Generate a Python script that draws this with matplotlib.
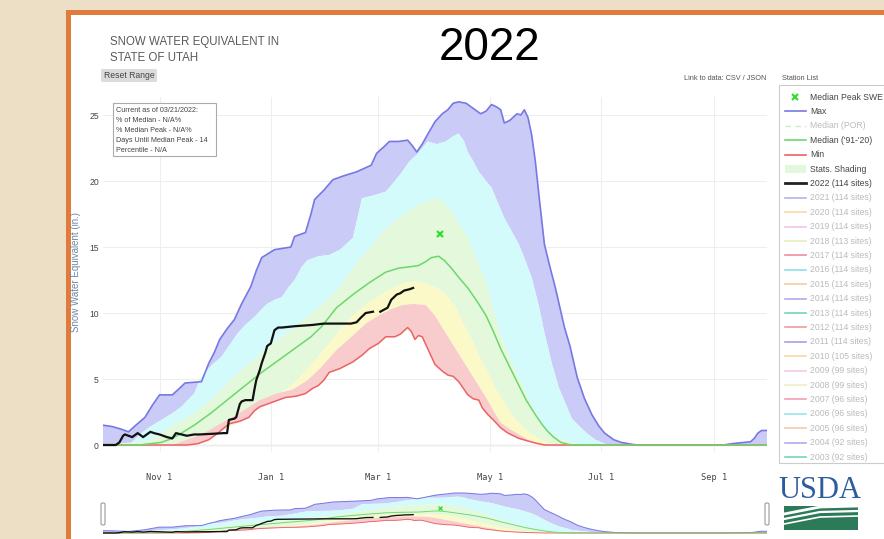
import numpy as np
import matplotlib
matplotlib.use("Agg")
import matplotlib.pyplot as plt
from matplotlib.patches import Rectangle, FancyBboxPatch

W, H = 884, 539

# x = day of water year (0 = Oct 1 2021, 364 = Sep 30 2022), y = SWE in inches
max_days = [0, 5, 10, 14, 18, 23, 27, 31, 38, 42, 45, 54, 58, 61, 64, 68, 72, 76, 81, 84, 87, 94,
            103, 105, 111, 114, 116, 121, 126, 132, 139, 147, 150, 154, 157, 162, 167, 170, 172,
            175, 177, 182, 186, 189, 192, 195, 199, 202, 207, 210, 213, 216, 218, 220, 223, 227,
            229, 231, 233, 235, 237, 239, 242, 245, 248, 253, 256, 260, 264, 268, 272, 275, 280,
            284, 290, 293, 340, 345, 348, 352, 355, 357, 359, 361, 364]
max_swe = [1.5, 1.4, 1.2, 1.0, 1.5, 2.1, 3.0, 3.8, 3.8, 4.3, 4.7, 4.8, 6.2, 7.0, 8.0, 8.8, 9.5, 10.7,
           12.0, 13.2, 14.2, 14.8, 15.0, 15.8, 16.1, 17.5, 18.6, 19.3, 20.1, 20.4, 20.7, 21.2, 22.1,
           22.6, 23.0, 23.0, 23.1, 22.6, 22.2, 22.8, 23.3, 24.5, 25.1, 25.4, 25.9, 26.0, 25.9, 25.6,
           25.1, 25.3, 25.8, 25.6, 25.4, 24.4, 24.6, 25.1, 25.0, 25.4, 24.8, 23.5, 21.5, 18.9, 15.2,
           13.5, 11.9, 8.9, 7.5, 5.1, 3.5, 2.3, 1.4, 0.9, 0.4, 0.2, 0.05, 0, 0, 0.1, 0.15, 0.2, 0.25,
           0.5, 0.9, 1.1, 1.1]

p90_days = [0, 15, 21, 26, 32, 38, 43, 50, 53, 56, 60, 65, 70, 74, 78, 83, 87, 90, 94, 98, 102, 105,
            109, 112, 118, 124, 130, 137, 140, 142, 148, 155, 160, 164, 168, 172, 178, 183, 188, 192,
            195, 198, 200, 203, 206, 210, 213, 216, 220, 224, 228, 232, 235, 239, 242, 246, 250, 254,
            257, 262, 266, 270, 275, 280, 364]
p90_swe = [0, 0.1, 0.9, 1.4, 1.9, 2.4, 2.9, 3.9, 4.9, 5.5, 6.1, 6.7, 7.7, 8.5, 9.1, 9.7, 10.3, 10.7,
           11.0, 11.2, 12.0, 12.5, 13.5, 14.0, 14.3, 14.4, 14.8, 15.7, 17.5, 18.7, 18.9, 19.2, 20.0,
           20.7, 21.5, 22.0, 23.0, 22.8, 23.0, 23.4, 23.6, 23.0, 22.2, 21.5, 20.7, 20.0, 19.5, 18.5,
           17.2, 16.2, 15.2, 13.8, 12.7, 10.5, 8.5, 6.2, 4.3, 3.0, 2.0, 1.3, 0.8, 0.4, 0.1, 0, 0]

p70_days = [0, 25, 32, 40, 50, 60, 68, 78, 87, 96, 105, 113, 120, 130, 137, 146, 155, 164, 173, 182,
            186, 191, 195, 200, 205, 210, 214, 218, 223, 228, 233, 237, 241, 244, 250, 256, 262, 364]
p70_swe = [0, 0.3, 0.9, 1.6, 2.4, 3.5, 4.7, 5.9, 7.0, 8.0, 8.9, 9.8, 10.6, 12.0, 13.4, 14.9, 16.4,
           17.4, 18.2, 18.7, 18.5, 17.7, 16.8, 15.7, 14.0, 12.3, 10.3, 8.3, 6.6, 5.1, 3.6, 2.5, 1.6,
           1.0, 0.5, 0.2, 0, 0]

med_days = [0, 20, 26, 32, 38, 43, 50, 59, 68, 77, 87, 96, 105, 114, 120, 128, 137, 146, 155, 162,
            168, 173, 177, 180, 184, 187, 191, 195, 200, 205, 210, 214, 218, 223, 228, 232, 237, 241,
            244, 247, 251, 255, 258, 364]
med_swe = [0, 0, 0.1, 0.2, 0.5, 0.9, 1.5, 2.4, 3.4, 4.4, 5.5, 6.4, 7.3, 8.2, 9.0, 10.4, 11.4, 12.3,
           13.1, 13.4, 13.5, 13.6, 13.9, 14.2, 14.3, 14.0, 13.4, 12.7, 11.9, 10.9, 9.8, 8.6, 7.3, 5.9,
           4.5, 3.4, 2.3, 1.5, 1.0, 0.6, 0.2, 0.05, 0, 0]

p30_days = [0, 35, 45, 50, 59, 68, 78, 87, 96, 105, 113, 120, 128, 137, 146, 155, 161, 166, 171, 177,
            183, 188, 193, 197, 202, 206, 211, 215, 220, 224, 229, 235, 240, 244, 250, 364]
p30_swe = [0, 0, 0.2, 0.4, 0.8, 1.3, 2.0, 2.9, 3.8, 4.7, 5.9, 7.0, 8.4, 9.8, 10.8, 11.6, 12.0, 12.3,
           12.4, 12.2, 11.9, 11.4, 10.5, 9.3, 8.0, 6.8, 5.5, 4.3, 3.2, 2.3, 1.5, 0.8, 0.4, 0.15, 0, 0]

p10_days = [0, 38, 42, 50, 58, 64, 71, 78, 86, 95, 104, 112, 119, 128, 137, 144, 151, 158, 164, 170,
            177, 182, 186, 191, 195, 200, 205, 210, 214, 218, 223, 228, 233, 237, 244, 364]
p10_swe = [0, 0, 0.2, 0.6, 1.1, 1.6, 2.1, 2.7, 3.4, 3.9, 4.2, 4.9, 5.8, 7.2, 8.3, 9.2, 9.8, 10.3,
           10.6, 10.7, 10.6, 9.8, 8.9, 7.8, 6.9, 5.8, 4.7, 3.6, 2.6, 1.7, 1.2, 0.8, 0.4, 0.2, 0, 0]

min_days = [0, 46, 52, 58, 63, 69, 75, 80, 83, 86, 92, 100, 106, 111, 115, 118, 121, 124, 130, 137,
            142, 146, 151, 155, 160, 163, 167, 169, 171, 173, 175, 178, 182, 186, 189, 192, 195, 198,
            200, 203, 206, 208, 211, 214, 218, 222, 228, 233, 237, 242, 364]
min_swe = [0, 0, 0.1, 0.4, 0.9, 1.6, 1.8, 2.1, 2.6, 2.9, 3.2, 3.6, 3.7, 3.9, 4.3, 4.5, 4.9, 5.5, 5.8,
           6.3, 6.8, 7.3, 7.7, 8.2, 8.2, 8.4, 8.9, 8.6, 8.0, 8.3, 8.2, 7.3, 6.1, 5.6, 5.3, 5.2, 4.8,
           4.2, 3.8, 3.5, 3.4, 2.8, 2.3, 1.9, 1.3, 0.9, 0.5, 0.3, 0.15, 0, 0]

cur_days = [0, 7, 9, 11, 12, 14, 16, 19, 22, 24, 26, 28, 31, 35, 38, 39, 40, 43, 46, 50, 53, 60, 66,
            68, 69, 72, 73, 75, 76, 78, 82, 83, 84, 86, 87, 89, 90, 92, 93, 94, 96, 98, 105, 115, 121,
            130, 136, 139, 141, 144, 148, 150, 152, 156, 158, 161, 163, 165, 168, 170]
cur_swe = [0, 0, 0.2, 0.7, 0.8, 0.7, 0.6, 0.9, 0.6, 0.8, 1.0, 0.9, 0.8, 0.6, 0.5, 0.7, 0.9, 0.8, 0.7,
           0.8, 0.8, 0.85, 0.9, 0.9, 1.9, 2.0, 2.1, 3.1, 3.3, 3.4, 3.4, 4.2, 4.9, 5.7, 6.2, 7.0, 7.5,
           7.7, 8.2, 8.7, 8.9, 8.9, 9.0, 9.1, 9.2, 9.2, 9.2, 9.3, 9.6, 10.0, 10.1, np.nan, 10.1, 10.4,
           11.0, 11.4, 11.5, 11.7, 11.8, 11.9]

peak_day, peak_swe = 185, 16.0

tick_days = [31, 92, 151, 212, 273, 335]
tick_labels = ["Nov 1", "Jan 1", "Mar 1", "May 1", "Jul 1", "Sep 1"]

legend_labels = ["Median Peak SWE", "Max", "Median (POR)", "Median ('91-'20)", "Min", "Stats. Shading",
                 "2022 (114 sites)", "2021 (114 sites)", "2020 (114 sites)", "2019 (114 sites)",
                 "2018 (113 sites)", "2017 (114 sites)", "2016 (114 sites)", "2015 (114 sites)",
                 "2014 (114 sites)", "2013 (114 sites)", "2012 (114 sites)", "2011 (114 sites)",
                 "2010 (105 sites)", "2009 (99 sites)", "2008 (99 sites)", "2007 (96 sites)",
                 "2006 (96 sites)", "2005 (96 sites)", "2004 (92 sites)", "2003 (92 sites)"]
legend_active = [True, True, False, True, True, True, True] + [False] * 19
year_colors = ["#b3b3ee", "#f8d8a8", "#f6c4ec", "#e8ecb8", "#ee8e9e", "#8ee0ea", "#f8c8a0",
               "#b8a8ec", "#6ed8b0", "#f09a9a", "#a8a0e8", "#f8d8a0", "#f8c8ec", "#ecf0c0",
               "#f0a0b0", "#98e4ee", "#f8c8a8", "#b8a8ee", "#70d8b8"]

C_MAX, C_MED, C_MIN = "#7878e4", "#6cd86c", "#ec6262"
C_PURPLE, C_CYAN, C_GREEN, C_YELLOW, C_PINK = "#cbcbf7", "#d3fbfb", "#e4f8dc", "#fcf9c8", "#f8cccc"

plt.rcParams['font.family'] = ['Liberation Sans', 'DejaVu Sans']


def px(x, y, w, h):
    return [x / W, 1 - (y + h) / H, w / W, h / H]


def band(ax, d_hi, v_hi, d_lo, v_lo, color):
    xs = np.concatenate([d_hi, d_lo[::-1]])
    ys = np.concatenate([v_hi, v_lo[::-1]])
    ax.fill(xs, ys, color=color, lw=0, zorder=1)


def draw_chart(ax, lw_scale=1.0):
    a = np.asarray
    band(ax, a(max_days), a(max_swe), a(p90_days), a(p90_swe), C_PURPLE)
    band(ax, a(p90_days), a(p90_swe), a(p70_days), a(p70_swe), C_CYAN)
    band(ax, a(p70_days), a(p70_swe), a(p30_days), a(p30_swe), C_GREEN)
    band(ax, a(p30_days), a(p30_swe), a(p10_days), a(p10_swe), C_YELLOW)
    band(ax, a(p10_days), a(p10_swe), a(min_days), a(min_swe), C_PINK)
    ax.plot(max_days, max_swe, color=C_MAX, lw=1.2 * lw_scale, zorder=3)
    ax.plot(min_days, min_swe, color=C_MIN, lw=1.1 * lw_scale, zorder=3)
    ax.plot(med_days, med_swe, color=C_MED, lw=1.1 * lw_scale, zorder=4)
    ax.plot(cur_days, cur_swe, color="#111111", lw=1.6 * lw_scale, zorder=5)
    ax.plot([peak_day], [peak_swe], marker='x', color="#33dd33", ms=4 * lw_scale,
            mew=1.6 * lw_scale, zorder=6)
    ax.set_xlim(0, 364)


fig = plt.figure(figsize=(W / 100, H / 100), dpi=100)
fig.patch.set_facecolor("#ecdfc6")

# background panel and page decorations
bg = fig.add_axes([0, 0, 1, 1], zorder=0)
bg.set_xlim(0, W)
bg.set_ylim(H, 0)
bg.axis('off')
bg.add_patch(Rectangle((67.5, 12), W, H, facecolor="white", edgecolor="#e07b3e", lw=3.6))
bg.text(110, 42, "SNOW WATER EQUIVALENT IN", fontsize=8.3, color="#5a5a5a", va='center')
bg.text(110, 58, "STATE OF UTAH", fontsize=8.3, color="#5a5a5a", va='center')
bg.text(490, 48, "2022", fontsize=33, color="black", ha='center', va='center')
bg.add_patch(FancyBboxPatch((101, 69), 56, 13, boxstyle="round,pad=0,rounding_size=1.5",
                            facecolor="#dcdcdc", edgecolor="none"))
bg.text(129, 75.5, "Reset Range", fontsize=6.2, color="#444444", ha='center', va='center')
bg.text(766, 78, "Link to data: CSV / JSON", fontsize=5.3, color="#555555", ha='right', va='center')
bg.text(782, 78, "Station List", fontsize=5.3, color="#555555", va='center')

# main chart
ax = fig.add_axes(px(103, 97, 664, 355), zorder=1)
ax.set_facecolor("white")
draw_chart(ax)
ax.set_ylim(-0.53, 26.37)
ax.set_yticks([0, 5, 10, 15, 20, 25])
ax.set_xticks(tick_days)
ax.set_xticklabels(tick_labels, family='DejaVu Sans Mono')
ax.tick_params(axis='both', length=0, labelsize=6.2, labelcolor="#444444")
ax.tick_params(axis='x', pad=15)
ax.tick_params(axis='y', pad=3)
ax.grid(True, color="#eeeeee", lw=0.8)
ax.axhline(0, color="#dddddd", lw=1.0, zorder=0.5)
ax.set_axisbelow(True)
for s in ax.spines.values():
    s.set_visible(False)

# range slider overview
nav = fig.add_axes(px(103, 490, 664, 47), zorder=1)
nav.set_facecolor("white")
draw_chart(nav, lw_scale=0.6)
nav.set_ylim(-2.6, 27.9)
nav.axis('off')

# overlay: axis title, info box, legend, handles, logo
top = fig.add_axes([0, 0, 1, 1], zorder=3)
top.set_xlim(0, W)
top.set_ylim(H, 0)
top.axis('off')
top.patch.set_alpha(0)

top.text(76, 272, "Snow Water Equivalent (in.)", fontsize=7, color="#6a88a8",
         rotation=90, ha='center', va='center')

top.add_patch(Rectangle((113, 103), 103, 53, facecolor="white", edgecolor="#aaaaaa", lw=0.8))
info = ["Current as of 03/21/2022:", "% of Median - N/A%", "% Median Peak - N/A%",
        "Days Until Median Peak - 14", "Percentile - N/A"]
for i, t in enumerate(info):
    top.text(116, 110 + i * 10, t, fontsize=5.2, color="#444444", va='center')

for hx in (103, 767):
    top.add_patch(FancyBboxPatch((hx - 2, 503), 4, 22, boxstyle="round,pad=0,rounding_size=1.5",
                                 facecolor="white", edgecolor="#999999", lw=0.8))

top.add_patch(Rectangle((779, 85), 120, 378, facecolor="white", edgecolor="#cccccc", lw=0.8))
line_colors = [None, C_MAX, "#c8eec8", C_MED, C_MIN, None, "#222222"] + year_colors
for i, lab in enumerate(legend_labels):
    y = 97 + i * 14.4
    tc = "#444444" if legend_active[i] else "#bbbbbb"
    if i == 0:
        top.plot([795], [y], marker='x', color="#33dd33", ms=4, mew=1.6)
    elif i == 2:
        top.plot([785, 806], [y, y], color=line_colors[i], lw=1.0, ls=(0, (4, 3)))
    elif i == 5:
        top.add_patch(Rectangle((785, y - 4), 21, 8, facecolor="#e2f8dc", edgecolor="none"))
    else:
        top.plot([785, 806], [y, y], color=line_colors[i], lw=2.0 if i == 6 else 1.2)
    top.text(810, y, lab, fontsize=6.2, color=tc, va='center')

# USDA logo
top.text(820, 490, "USDA", fontsize=22, family='Liberation Serif', color="#2c5d9c",
         ha='center', va='center')
top.add_patch(Rectangle((784, 506), 74, 24, facecolor="#2d7a58", edgecolor="none"))
for yy, ww in ((506, 2.0), (511, 1.6), (516, 1.2)):
    top.plot([784, 820, 858], [yy + 8, yy + 1, yy], color="white", lw=ww)
top.add_patch(Rectangle((784, 500), 74, 6, facecolor="white", edgecolor="none"))

fig.savefig("out.png", dpi=100, facecolor=fig.get_facecolor())
